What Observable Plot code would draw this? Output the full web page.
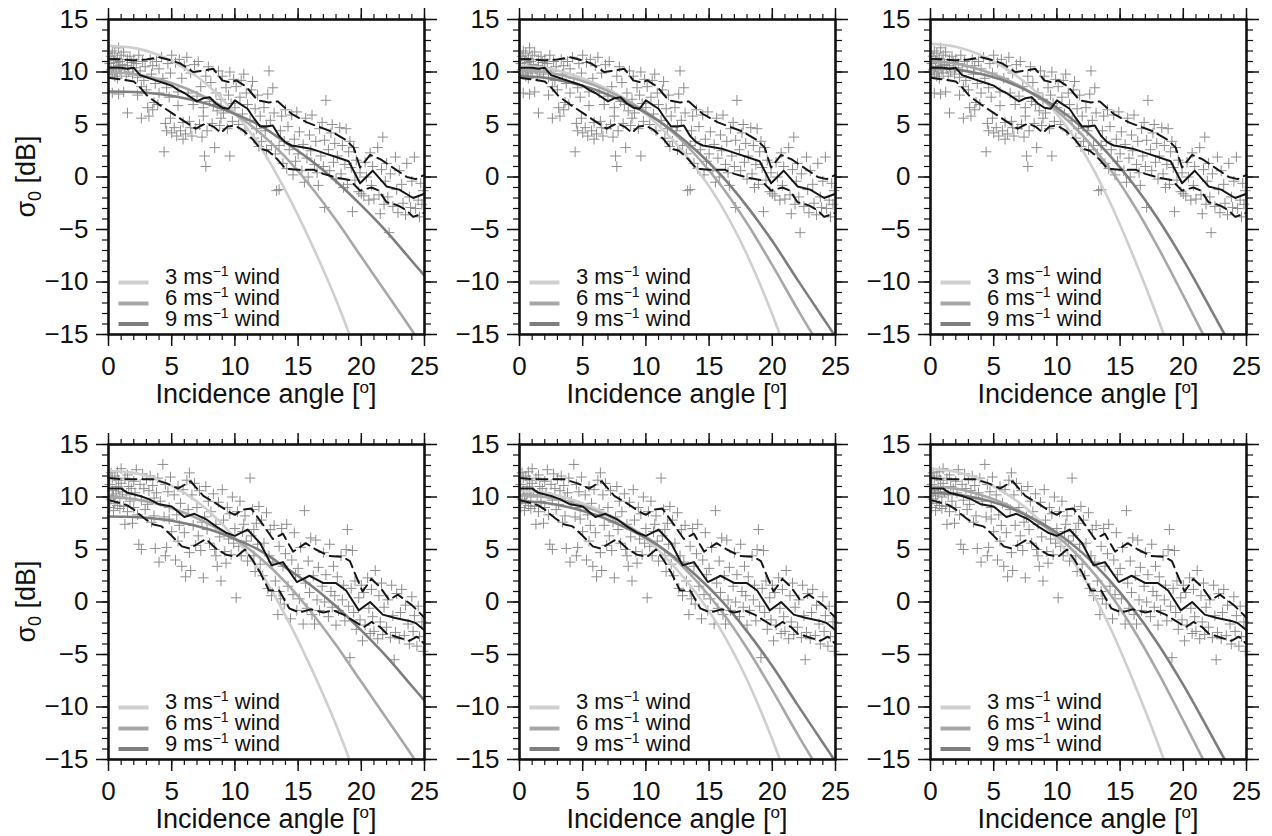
<!DOCTYPE html>
<html><head><meta charset="utf-8">
<script src="https://cdn.jsdelivr.net/npm/d3@7"></script>
<script src="https://cdn.jsdelivr.net/npm/@observablehq/plot@0.6"></script>
<style>
html,body{margin:0;padding:0;background:#fff;}
#wrap{position:relative;width:1272px;height:836px;overflow:hidden;background:#fff;}
.panel{position:absolute;overflow:visible;}
.panel svg{max-width:none !important;}
</style></head><body><div id="wrap"></div>
<script>
// ---------- tick values ----------
const majorTicksX = [0, 5, 10, 15, 20, 25];
const minorTicksX = d3.range(0, 26, 1);
const majorTicksY = [-15, -10, -5, 0, 5, 10, 15];
const minorTicksY = d3.range(-15, 16, 1);
const windLabels = ["3", "6", "9"];
const windColors = ["#cfcfcf", "#a8a8a8", "#7e7e7e"];

// ---------- observations, top row ----------
const topObs = [
[0.1,10.8],[0.2,11.5],[0.2,10.2],[0.3,9.8],[0.3,12.0],[0.4,11.1],[0.4,10.5],[0.5,9.6],[0.5,11.8],[0.6,10.9],[0.6,10.0],[0.7,11.3],[0.7,9.4],[0.8,10.6],[0.8,12.3],[0.9,10.2],[0.9,11.0],[1.0,9.9],[1.0,11.6],[0.3,8.0],[0.8,7.9],[1.2,8.1],[1.1,10.7],[1.2,11.9],[1.3,10.3],[1.4,9.6],[1.5,11.2],[1.5,10.6],[1.6,10.0],[1.7,11.5],[1.8,10.9],[1.9,9.8],[2.0,11.2],[2.0,10.4],[1.5,6.1],
[2.2,10.8],[2.3,9.5],[2.4,11.6],[2.5,10.1],[2.6,8.6],[2.7,11.0],[2.8,9.2],[2.9,10.5],[3.0,8.3],[2.6,5.6],[3.2,5.8],[3.1,6.6],[2.3,7.8],
[3.3,11.2],[3.4,9.8],[3.5,10.6],[3.6,7.1],[3.7,8.9],[3.8,11.0],[3.9,6.9],[4.0,10.3],[3.5,6.4],[4.0,8.0],
[4.2,11.4],[4.3,9.4],[4.4,2.4],[4.5,5.1],[4.6,4.4],[4.7,10.8],[4.8,7.6],[4.9,5.6],[5.0,11.6],[5.0,4.2],[4.6,8.5],[4.9,9.9],
[5.2,4.7],[5.3,10.9],[5.4,3.9],[5.5,6.8],[5.6,11.2],[5.7,4.4],[5.8,9.4],[5.9,5.2],[6.0,10.6],[5.5,8.1],[5.9,3.6],
[6.1,4.1],[6.2,11.4],[6.3,8.0],[6.4,5.3],[6.5,9.9],[6.6,3.9],[6.7,6.9],[6.8,10.7],[6.9,4.6],[7.0,7.7],[6.5,4.7],
[7.1,11.0],[7.2,5.0],[7.3,8.6],[7.4,3.8],[7.5,6.6],[7.6,2.0],[7.7,9.6],[7.7,1.0],[7.8,4.4],[7.9,10.5],[8.0,7.2],[7.5,5.8],
[8.1,9.0],[8.2,5.1],[8.4,2.8],[8.5,8.0],[8.6,6.3],[8.7,10.1],[8.8,4.9],[8.9,7.4],[9.0,9.6],[8.3,6.9],[8.9,5.6],
[9.1,6.1],[9.3,8.5],[9.4,4.6],[9.6,2.0],[9.6,10.0],[9.7,7.0],[9.8,5.3],[9.9,9.3],[10.0,6.6],[9.5,7.8],
[10.1,8.6],[10.3,5.0],[10.4,7.6],[10.5,9.2],[10.6,6.0],[10.8,4.4],[10.9,8.0],[11.0,6.9],[10.7,9.8],
[11.2,5.4],[11.3,8.3],[11.5,3.7],[11.6,6.5],[11.7,4.6],[11.8,7.8],[11.9,2.9],[12.0,5.8],[11.4,9.1],
[12.1,3.4],[12.3,6.6],[12.4,4.4],[12.5,2.6],[12.6,7.9],[12.7,10.1],[12.8,5.4],[12.9,3.0],[13.0,8.5],[12.5,4.9],
[13.1,6.1],[13.2,2.2],[13.3,-1.3],[13.5,-1.2],[13.6,4.4],[13.7,5.8],[13.8,1.3],[13.9,3.4],[14.0,6.4],[13.5,3.0],
[14.1,0.8],[14.2,4.8],[14.3,2.6],[14.5,5.9],[14.6,0.2],[14.7,3.6],[14.8,1.5],[14.9,6.2],[15.0,2.2],
[15.1,4.3],[15.3,0.6],[15.4,3.1],[15.6,5.6],[15.7,1.8],[15.8,0.0],[15.9,4.0],[16.0,2.5],[15.5,-0.5],
[16.1,5.9],[16.3,1.2],[16.4,3.4],[16.5,0.4],[16.7,4.6],[16.8,2.0],[16.9,5.2],[17.0,1.0],[16.6,-0.8],
[17.1,3.5],[17.2,7.3],[17.1,-2.9],[17.4,2.6],[17.5,0.6],[17.6,4.2],[17.8,1.4],[17.9,3.2],[18.0,-0.2],[17.7,5.0],
[18.1,2.0],[18.3,4.7],[18.4,0.3],[18.5,3.0],[18.7,1.2],[18.8,4.6],[18.9,-0.7],[19.0,2.4],[18.6,-1.0],
[19.1,3.4],[19.2,0.9],[19.3,-3.3],[19.4,2.8],[19.5,-0.3],[19.6,1.6],[19.8,-1.4],[19.9,0.4],[20.0,-1.6],
[20.2,-1.8],[20.3,1.4],[20.4,0.0],[20.6,-2.2],[20.7,2.3],[20.8,-0.8],[20.9,1.0],[21.0,-2.1],
[21.3,2.8],[21.4,-1.7],[21.6,0.7],[21.7,3.8],[21.8,-2.6],[21.9,-0.4],[22.0,1.3],[21.5,-3.5],
[22.1,-1.9],[22.3,0.3],[22.2,-5.3],[22.5,-2.8],[22.7,1.9],[22.8,-1.2],[22.9,-3.4],[23.0,0.6],
[23.2,-0.7],[23.3,-2.5],[23.5,-3.6],[23.6,1.3],[23.8,-1.9],[23.9,-2.9],[24.0,-0.4],
[24.2,1.9],[24.3,-3.0],[24.5,-2.2],[24.6,-3.8],[24.7,-0.6],[24.8,-2.6],[24.9,-1.3]
];
const topMean = [[0,10.4],[1,10.4],[1.5,10.3],[2,10.4],[2.5,9.7],[3,9.5],[3.5,9.3],[4,9.1],[4.5,8.9],[5,8.7],[5.5,8.3],[6,8.0],[6.5,7.6],[7,7.2],[7.5,7.5],[8,7.6],[8.5,7.0],[9,6.6],[9.5,6.5],[10,7.3],[10.5,6.9],[11,6.5],[11.5,5.6],[12,4.8],[12.5,4.8],[13,4.9],[13.5,3.9],[14,3.3],[14.5,3.0],[15,2.9],[16,2.7],[17,2.3],[18,1.9],[19,1.5],[19.9,-0.6],[20.9,0.6],[22,-0.9],[23,-1.2],[24.1,-2.0],[25,-1.6]];
const topUpper = [[0,11.25],[1,11.2],[2,11.1],[3,11.2],[4,11.4],[5,11.1],[5.7,10.8],[6.7,10.0],[7.3,10.1],[8.3,10.3],[9,9.2],[9.7,9.0],[10.1,9.2],[10.9,8.6],[11.8,7.3],[12.7,7.1],[13.4,7.2],[14.5,6.0],[15.7,5.2],[16.6,4.8],[17.7,4.3],[18.8,3.5],[19.4,2.8],[19.9,0.9],[20.7,2.1],[21.5,1.7],[22.5,0.9],[23.6,0.0],[24.3,-0.2],[25,0.2]];
const topLower = [[0,9.45],[1,9.3],[2,9.1],[2.6,8.4],[3.1,7.7],[4,6.9],[5,6.1],[6,5.3],[6.9,4.6],[7.7,5.1],[8.3,4.8],[8.9,4.2],[9.4,4.8],[10,4.9],[10.6,4.5],[11.4,3.6],[12,2.7],[12.6,2.5],[13.2,1.9],[14,0.8],[15,0.7],[16.2,0.7],[17,0.3],[18.2,-0.1],[19.1,-0.3],[19.9,-1.3],[20.8,-1.0],[21.4,-1.3],[22,-2.4],[22.9,-2.7],[23.6,-3.2],[24.1,-3.8],[25,-3.4]];

// ---------- observations, bottom row ----------
const bottomObs = [
[0.1,9.0],[0.1,11.2],[0.2,12.3],[0.2,9.8],[0.3,10.6],[0.3,11.8],[0.4,8.7],[0.4,10.1],[0.5,12.0],[0.5,9.4],[0.6,11.0],[0.6,10.3],[0.7,12.4],[0.7,9.2],[0.8,10.8],[0.8,11.6],[0.9,8.9],[0.9,10.0],[1.0,11.3],[1.0,12.7],
[1.1,10.5],[1.2,9.1],[1.3,11.8],[1.4,10.2],[1.5,12.1],[1.5,8.6],[1.6,11.0],[1.7,9.6],[1.8,10.8],[1.9,7.5],[2.0,11.5],[2.0,9.0],[1.3,7.4],
[2.1,10.4],[2.2,12.6],[2.3,8.3],[2.4,5.5],[2.5,11.2],[2.6,9.7],[2.7,12.2],[2.8,10.8],[2.9,8.8],[3.0,11.7],[2.6,5.0],
[3.1,9.3],[3.2,10.6],[3.3,12.0],[3.4,7.6],[3.5,11.1],[3.6,9.9],[3.7,5.1],[3.8,10.4],[3.9,11.8],[4.0,3.8],[3.6,8.2],
[4.1,9.6],[4.3,13.1],[4.4,8.1],[4.5,11.2],[4.6,5.2],[4.7,10.5],[4.8,7.9],[4.9,11.9],[5.0,6.7],[4.5,4.4],[4.8,9.0],
[5.2,10.2],[5.3,4.0],[5.4,8.3],[5.5,11.0],[5.6,7.3],[5.7,9.4],[5.8,3.4],[5.9,10.7],[6.0,6.6],[5.5,5.8],
[6.1,2.4],[6.2,11.6],[6.3,8.8],[6.4,4.7],[6.5,3.0],[6.6,10.2],[6.7,7.3],[6.8,11.3],[6.9,5.4],[7.0,9.0],[6.4,12.3],
[7.1,6.3],[7.2,10.6],[7.3,4.9],[7.5,2.3],[7.6,8.1],[7.7,11.0],[7.8,6.9],[7.9,9.6],[8.0,5.6],[7.4,7.6],
[8.1,8.6],[8.3,10.3],[8.4,5.0],[8.5,7.4],[8.6,3.4],[8.7,9.5],[8.8,6.2],[8.9,2.0],[9.0,10.7],[8.5,4.4],
[9.1,7.8],[9.2,4.8],[9.4,9.0],[9.5,6.0],[9.6,8.4],[9.7,4.5],[9.8,10.0],[9.9,5.6],[10.0,7.0],[9.3,3.7],
[10.1,0.4],[10.2,8.6],[10.3,5.3],[10.4,9.6],[10.5,4.4],[10.6,6.7],[10.8,8.2],[10.9,5.8],[11.0,3.9],[10.7,7.4],
[11.2,11.8],[11.3,6.3],[11.4,8.8],[11.5,4.4],[11.6,2.9],[11.7,7.5],[11.8,5.5],[11.9,9.1],[12.0,3.6],[11.5,6.9],
[12.1,7.8],[12.2,2.5],[12.3,5.6],[12.5,8.5],[12.6,1.3],[12.7,4.4],[12.8,6.9],[12.9,0.6],[13.0,3.8],
[13.1,7.3],[13.2,2.0],[13.4,-1.2],[13.5,5.3],[13.6,0.3],[13.7,7.0],[13.8,3.4],[13.9,-0.2],[14.0,4.6],[13.5,1.0],
[14.1,7.4],[14.2,1.5],[14.4,-1.6],[14.5,4.0],[14.6,0.7],[14.7,6.6],[14.8,2.6],[14.9,-0.8],[15.0,3.2],
[15.1,0.3],[15.2,5.2],[15.4,-2.1],[15.5,8.7],[15.6,1.8],[15.7,-0.6],[15.8,3.9],[15.9,0.9],[16.0,6.1],
[16.1,-1.2],[16.2,2.5],[16.3,-2.1],[16.4,5.9],[16.5,0.2],[16.6,3.3],[16.7,-0.8],[16.9,1.5],[17.0,4.7],
[17.1,0.0],[17.2,2.6],[17.4,-1.4],[17.5,5.5],[17.6,1.0],[17.7,-0.5],[17.8,3.4],[17.9,0.6],[18.0,-2.2],
[18.1,2.4],[18.2,-0.8],[18.4,4.4],[18.5,0.2],[18.6,1.6],[18.7,-1.8],[18.9,6.9],[19.0,-0.4],[18.8,5.0],
[19.1,-5.3],[19.2,1.3],[19.3,4.9],[19.4,-1.0],[19.5,2.0],[19.6,-2.6],[19.8,0.4],[19.9,-1.7],[20.0,1.6],
[20.1,-3.7],[20.2,0.9],[20.3,-2.2],[20.5,2.3],[20.6,-0.6],[20.7,-3.0],[20.8,1.2],[20.9,-1.4],[21.0,-2.8],
[21.1,3.0],[21.3,-3.5],[21.4,0.6],[21.5,-1.9],[21.6,1.8],[21.7,-3.1],[21.8,-0.5],[22.0,-2.4],
[22.1,0.2],[22.3,-3.4],[22.4,1.6],[22.5,-1.3],[22.6,-5.5],[22.7,-2.9],[22.8,0.8],[23.0,-3.5],
[23.1,-1.0],[23.2,1.2],[23.4,-3.2],[23.5,-0.3],[23.7,-2.1],[23.8,-4.0],[24.0,0.5],
[24.1,-2.8],[24.2,-1.3],[24.4,-4.2],[24.5,-0.4],[24.6,-3.3],[24.8,-1.9],[24.9,-4.7]
];
const bottomMean = [[0,10.8],[1,10.8],[1.5,10.4],[2.5,10.1],[3.2,9.8],[4,9.3],[5,9.1],[6,8.1],[6.8,8.4],[7.7,7.9],[8.5,7.2],[9.3,6.6],[10,6.3],[11,6.9],[12,5.6],[12.9,3.5],[13.8,3.8],[14.9,1.9],[15.9,2.5],[17,1.8],[18,1.8],[18.8,1.1],[19.8,-0.8],[20.7,0.0],[21.7,-1.2],[22.6,-1.5],[23.8,-1.8],[24.3,-2.0],[25,-2.7]];
const bottomUpper = [[0,11.8],[1,11.7],[2,11.7],[3.5,11.7],[4.6,11.3],[5.5,10.8],[6.5,11.5],[7.5,10.1],[8.5,9.4],[9.5,8.6],[10,8.3],[10.6,8.8],[11.3,8.9],[12.2,7.4],[13,6.0],[13.8,6.5],[14.6,4.8],[15.6,5.6],[16.4,5.0],[17.4,4.4],[18.5,4.3],[19.1,3.9],[19.5,2.7],[20.1,1.0],[20.8,2.2],[21.5,1.4],[22.2,0.2],[22.9,0.7],[24,-0.3],[25,-1.5]];
const bottomLower = [[0,9.7],[1,9.4],[1.5,9.2],[2,8.8],[2.8,8.0],[3.5,7.4],[4.2,7.2],[5,6.3],[5.8,5.3],[6.4,5.1],[7,5.5],[7.7,6.0],[8.5,5.1],[9.3,4.5],[10.1,4.3],[10.8,5.0],[11.4,4.0],[12,2.8],[12.7,1.1],[13.5,1.1],[14.3,-0.6],[15.1,-1.0],[16,-0.7],[17,-1.0],[17.8,-0.8],[18.6,-1.2],[19.4,-1.8],[20.2,-2.4],[20.8,-1.9],[21.5,-2.4],[22,-3.0],[23,-3.4],[23.8,-3.7],[24.4,-3.3],[25,-4.0]];

// ---------- model curves, one set per column ----------
const col1Wind3 = [[0,12.5],[2,12.3],[4,11.6],[6,10.4],[8,8.6],[10,6.1],[12,2.9],[14,-1.3],[16,-6.2],[18,-11.7],[19,-14.8],[20,-18.2]];
const col1Wind6 = [[0,10.0],[2,9.8],[4,9.3],[6,8.5],[8,7.4],[10,6.0],[12,4.2],[14,1.9],[16,-0.9],[18,-4.1],[20,-7.6],[22,-11.1],[24,-14.6],[25,-16.5]];
const col1Wind9 = [[0,8.15],[2,8.1],[4,7.9],[6,7.5],[8,6.9],[10,6.0],[12,4.9],[14,3.3],[16,1.6],[18,-0.4],[20,-2.7],[22,-5.2],[24,-8.0],[25,-9.4]];
const col2Wind3 = [[0,10.6],[2,10.4],[4,9.8],[6,8.9],[8,7.7],[10,6.0],[12,3.7],[14,0.8],[16,-2.8],[18,-7.4],[20,-13.1],[21,-16.3]];
const col2Wind6 = [[0,10.2],[2,10.0],[4,9.5],[6,8.7],[8,7.6],[10,6.2],[12,4.4],[14,2.0],[16,-0.9],[18,-4.4],[20,-8.4],[22,-12.6],[24,-16.6]];
const col2Wind9 = [[0,9.6],[2,9.45],[4,9.0],[6,8.3],[8,7.3],[10,6.1],[12,4.5],[14,2.5],[16,0.1],[18,-2.8],[20,-6.1],[22,-9.8],[24,-13.4],[25,-15.2]];
const col3Wind3 = [[0,12.7],[2,12.4],[4,11.6],[6,10.3],[8,8.5],[10,6.0],[12,2.6],[14,-1.9],[16,-7.4],[18,-13.5],[19,-16.8]];
const col3Wind6 = [[0,11.0],[2,10.8],[4,10.2],[6,9.3],[8,8.0],[10,6.3],[12,4.0],[14,1.1],[16,-2.5],[18,-6.7],[20,-11.3],[22,-16.0]];
const col3Wind9 = [[0,10.4],[2,10.25],[4,9.8],[6,9.1],[8,8.0],[10,6.6],[12,4.7],[14,2.3],[16,-0.6],[18,-4.0],[20,-7.9],[22,-12.2],[24,-16.6]];

const columnCurves = [
  [col1Wind3, col1Wind6, col1Wind9],
  [col2Wind3, col2Wind6, col2Wind9],
  [col3Wind3, col3Wind6, col3Wind9]
];
const rows = [
  {obs: topObs, mean: topMean, upper: topUpper, lower: topLower},
  {obs: bottomObs, mean: bottomMean, upper: bottomUpper, lower: bottomLower}
];

// ---------- layout ----------
const FONT = "'Liberation Sans', Arial, Helvetica, sans-serif";
const ML = 100, MR = 30, MT = 19, MB = 84, IW = 316, IH = 315;
const W = ML + IW + MR, H = MT + IH + MB;
const colLeft = [107.5, 519, 930];
const rowTop = [19, 443.5];
const INK = "#111";
const TICK_FS = 26, TITLE_FS = 27, LEGEND_FS = 22;

function panel(row, curves, showYTitle) {
  const X = d => d[0], Y = d => d[1];
  const curveMarks = curves.map((c, i) =>
    Plot.line(c, {x: X, y: Y, stroke: windColors[i], strokeWidth: 2.6, curve: "monotone-x", clip: true}));
  const blank = () => "";
  const svg = Plot.plot({
    width: W, height: H,
    marginLeft: ML, marginRight: MR, marginTop: MT, marginBottom: MB,
    x: {domain: [0, 25]},
    y: {domain: [-15, 15]},
    style: {fontFamily: FONT, background: "transparent", overflow: "visible", color: INK, maxWidth: "none"},
    marks: [
      Plot.dot(row.obs, {x: X, y: Y, symbol: "plus", r: 3.5, stroke: "#8e8e8e", strokeWidth: 1}),
      ...curveMarks,
      Plot.line(row.upper, {x: X, y: Y, stroke: "#161616", strokeWidth: 2, strokeDasharray: "11,6"}),
      Plot.line(row.lower, {x: X, y: Y, stroke: "#161616", strokeWidth: 2, strokeDasharray: "11,6"}),
      Plot.line(row.mean, {x: X, y: Y, stroke: "#161616", strokeWidth: 2}),
      Plot.axisX({ticks: majorTicksX, tickSize: 12, tickPadding: 10, label: null, stroke: INK, strokeWidth: 1.5}),
      Plot.axisX({ticks: minorTicksX, tickSize: 6, tickFormat: blank, label: null, stroke: INK, strokeWidth: 1.2}),
      Plot.axisX({anchor: "top", ticks: majorTicksX, tickSize: 12, tickFormat: blank, label: null, stroke: INK, strokeWidth: 1.5}),
      Plot.axisX({anchor: "top", ticks: minorTicksX, tickSize: 6, tickFormat: blank, label: null, stroke: INK, strokeWidth: 1.2}),
      Plot.axisY({ticks: majorTicksY, tickSize: 12, tickPadding: 8, label: null, stroke: INK, strokeWidth: 1.5}),
      Plot.axisY({ticks: minorTicksY, tickSize: 6, tickFormat: blank, label: null, stroke: INK, strokeWidth: 1.2}),
      Plot.axisY({anchor: "right", ticks: majorTicksY, tickSize: 12, tickFormat: blank, label: null, stroke: INK, strokeWidth: 1.5}),
      Plot.axisY({anchor: "right", ticks: minorTicksY, tickSize: 6, tickFormat: blank, label: null, stroke: INK, strokeWidth: 1.2}),
      Plot.frame({stroke: INK, strokeWidth: 2.6})
    ]
  });
  const s = d3.select(svg);
  s.style("max-width", "none");
  // enlarge every tick label produced by the axes (only texts present so far)
  s.selectAll("g").filter(function () { return this.querySelector(":scope > text"); })
    .attr("font-size", null).style("font-size", TICK_FS + "px");
  s.selectAll("text").attr("font-size", null).style("font-size", TICK_FS + "px");
  // x title
  const xt = s.append("text")
    .attr("x", ML + IW / 2).attr("y", MT + IH + 69)
    .attr("text-anchor", "middle").style("font-size", TITLE_FS + "px").attr("fill", INK)
    .attr("font-family", FONT);
  xt.append("tspan").text("Incidence angle [");
  xt.append("tspan").style("font-size", "17px").attr("dy", -10).text("o");
  xt.append("tspan").attr("dy", 10).text("]");
  // y title
  if (showYTitle) {
    const yt = s.append("text")
      .attr("transform", `translate(${ML - 73},${MT + IH / 2}) rotate(-90)`)
      .attr("text-anchor", "middle").style("font-size", TITLE_FS + "px").attr("fill", INK)
      .attr("font-family", FONT);
    yt.append("tspan").text("σ");
    yt.append("tspan").style("font-size", "18px").attr("dy", 6).text("0");
    yt.append("tspan").attr("dy", -6).text(" [dB]");
  }
  // legend
  const lg = s.append("g");
  const rowsY = [263.5, 284.5, 305];
  windLabels.forEach((w, i) => {
    lg.append("line")
      .attr("x1", ML + 10.5).attr("x2", ML + 40.5)
      .attr("y1", MT + rowsY[i]).attr("y2", MT + rowsY[i])
      .attr("stroke", windColors[i]).attr("stroke-width", 4);
    const t = lg.append("text")
      .attr("x", ML + 57).attr("y", MT + rowsY[i] + 1.5)
      .attr("text-anchor", "start")
      .style("font-size", LEGEND_FS + "px").attr("fill", INK).attr("font-family", FONT);
    t.append("tspan").text(w + " ms");
    t.append("tspan").style("font-size", "14px").attr("dy", -8).text("\u22121");
    t.append("tspan").attr("dy", 8).text(" wind");
  });
  return svg;
}

const wrap = document.getElementById("wrap");
rows.forEach((row, r) => {
  columnCurves.forEach((curves, c) => {
    const div = document.createElement("div");
    div.className = "panel";
    div.style.left = (colLeft[c] - ML) + "px";
    div.style.top = (rowTop[r] - MT) + "px";
    div.style.width = W + "px";
    div.style.height = H + "px";
    div.appendChild(panel(row, curves, c === 0));
    wrap.appendChild(div);
  });
});
</script></body></html>
